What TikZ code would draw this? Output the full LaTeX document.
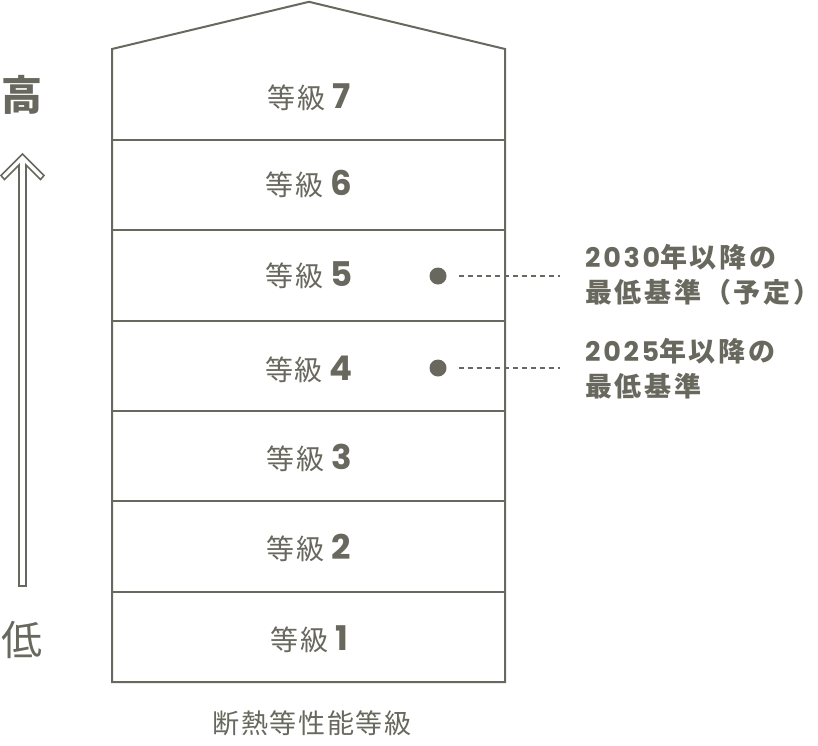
\documentclass[tikz,border=0pt]{standalone}
\usepackage{fontspec}
\setmainfont{Noto Sans CJK JP}
\newfontfamily\jp{Noto Sans CJK JP}
\newfontfamily\jpls{Noto Sans CJK JP}[LetterSpace=7]
\newfontfamily\titlefont{Noto Sans CJK JP}[LetterSpace=6]
\newfontfamily\labfont{Noto Sans CJK JP}[LetterSpace=10]
\newfontfamily\labnum{Poppins}[LetterSpace=10]
\newfontfamily\numfont{Poppins}
\definecolor{ink}{RGB}{104,104,94}
\begin{document}
\begin{tikzpicture}[x=1pt,y=-1pt,
  every node/.style={inner sep=0pt, text=ink},
  outline/.style={draw=ink, line width=2pt, line join=miter},
  divider/.style={draw=ink, line width=2pt},
  arrowline/.style={draw=ink, line width=1.6pt, line join=miter},
  grade/.style={font=\jpls\fontsize{28}{30}\selectfont},
  dotmark/.style={circle, fill=ink, minimum size=17pt},
  dashline/.style={draw=ink, line width=1.3pt, dash pattern=on 5pt off 4pt},
  note/.style={font=\labfont\bfseries\fontsize{27}{35}\selectfont, align=left, anchor=west},
]
\useasboundingbox (0,0) rectangle (818,745);
% house outline
\draw[outline] (112,682) -- (112,49) -- (309,1.8) -- (505,49) -- (505,682) -- cycle;
\foreach \yy in {140,230.3,320.7,411,501.3,591.7}
  \draw[divider] (112,\yy) -- (505,\yy);
% grade labels
\newcommand{\gradetext}[1]{等級\hspace{7pt}{\numfont\bfseries\fontsize{34}{34}\selectfont #1}}
\newcommand{\nd}[1]{{\labnum\bfseries\fontsize{27}{35}\selectfont #1}}
\node[grade] (g7) at (309,97) {\gradetext{7}};
\node[grade] (g6) at (309,184) {\gradetext{6}};
\node[grade] (g5) at (309,275) {\gradetext{5}};
\node[grade] (g4) at (309,369) {\gradetext{4}};
\node[grade] (g3) at (309,458) {\gradetext{3}};
\node[grade] (g2) at (309,548) {\gradetext{2}};
\node[grade] (g1) at (309,639) {\gradetext{1}};
% arrow
\draw[arrowline] (22.5,154) -- (44,175.5) -- (40.5,179.5) -- (26,165) -- (26,586) -- (19,586) -- (19,165) -- (4.5,179.5) -- (1,175.5) -- cycle;
\node[font=\jp\bfseries\fontsize{41}{41}\selectfont] (hi) at (22,95) {高};
\node[font=\jp\fontsize{41}{41}\selectfont] (lo) at (22,640) {低};
% title
\node[font=\titlefont\fontsize{27}{27}\selectfont] (title) at (312,723) {断熱等性能等級};
% markers
\node[dotmark] (d5) at (438,276) {};
\coordinate (e5) at (560,276);
\draw[dashline, shorten <=12pt] (d5.east) -- (e5);
\node[dotmark] (d4) at (438,368) {};
\coordinate (e4) at (560,368);
\draw[dashline, shorten <=12pt] (d4.east) -- (e4);
\node[note] (n5) at (585,275) {\nd{2030}年以降の\kern-3pt\\最低基準（予定）\kern-5pt};
\node[note] (n4) at (585,369) {\nd{2025}年以降の\kern-3pt\\最低基準\kern-3pt};
\end{tikzpicture}
\end{document}
